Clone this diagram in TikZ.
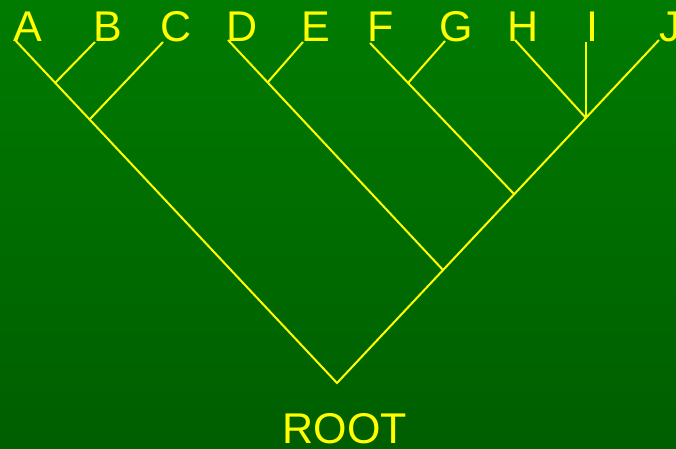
\documentclass[tikz,border=0pt]{standalone}
\usepackage{fontspec}
\setmainfont{Liberation Sans}
\definecolor{bgtop}{RGB}{0,123,0}
\definecolor{bgbot}{RGB}{0,94,0}
\definecolor{ylw}{RGB}{255,255,0}
\begin{document}
\begin{tikzpicture}[x=1pt,y=-1pt,
  lbl/.style={anchor=base,inner sep=0pt,text=ylw,font=\fontsize{43}{43}\selectfont},
  branch/.style={draw=ylw,line width=2pt}]
\fill[top color=bgtop,bottom color=bgbot] (0,0) rectangle (676,448);
\useasboundingbox (0,0) rectangle (676,448);
% labels
\node[lbl] (la) at (28,41) {A};
\node[lbl] (lb) at (108,41) {B};
\node[lbl] (lc) at (176,41) {C};
\node[lbl] (ld) at (242,41) {D};
\node[lbl] (le) at (316,41) {E};
\node[lbl] (lf) at (381,41) {F};
\node[lbl] (lg) at (456,41) {G};
\node[lbl] (lh) at (523,41) {H};
\node[lbl] (li) at (592,41) {I};
\node[lbl] (lj) at (670,41) {J};
\node[lbl] (lroot) at (345,443) {ROOT};
% tips
\coordinate (a) at (15,40);
\coordinate (b) at (95,42);
\coordinate (c) at (163,42);
\coordinate (d) at (228,40);
\coordinate (e) at (303,42);
\coordinate (f) at (370,43);
\coordinate (g) at (445,41);
\coordinate (h) at (515,40);
\coordinate (i) at (586,42);
\coordinate (j) at (659,40);
% junctions
\coordinate (root) at (337,383);
\coordinate (ab) at (55,83);
\coordinate (abc) at (90,119);
\coordinate (de) at (268,82);
\coordinate (fg) at (408,83);
\coordinate (dj) at (443,270);
\coordinate (fj) at (514,194);
\coordinate (hij) at (586,118);
% branches
\draw[branch] (a) -- (root) -- (j);
\draw[branch] (b) -- (ab);
\draw[branch] (c) -- (abc);
\draw[branch] (d) -- (dj);
\draw[branch] (e) -- (de);
\draw[branch] (f) -- (fj);
\draw[branch] (g) -- (fg);
\draw[branch] (h) -- (hij);
\draw[branch] (i) -- (hij);
\end{tikzpicture}
\end{document}
